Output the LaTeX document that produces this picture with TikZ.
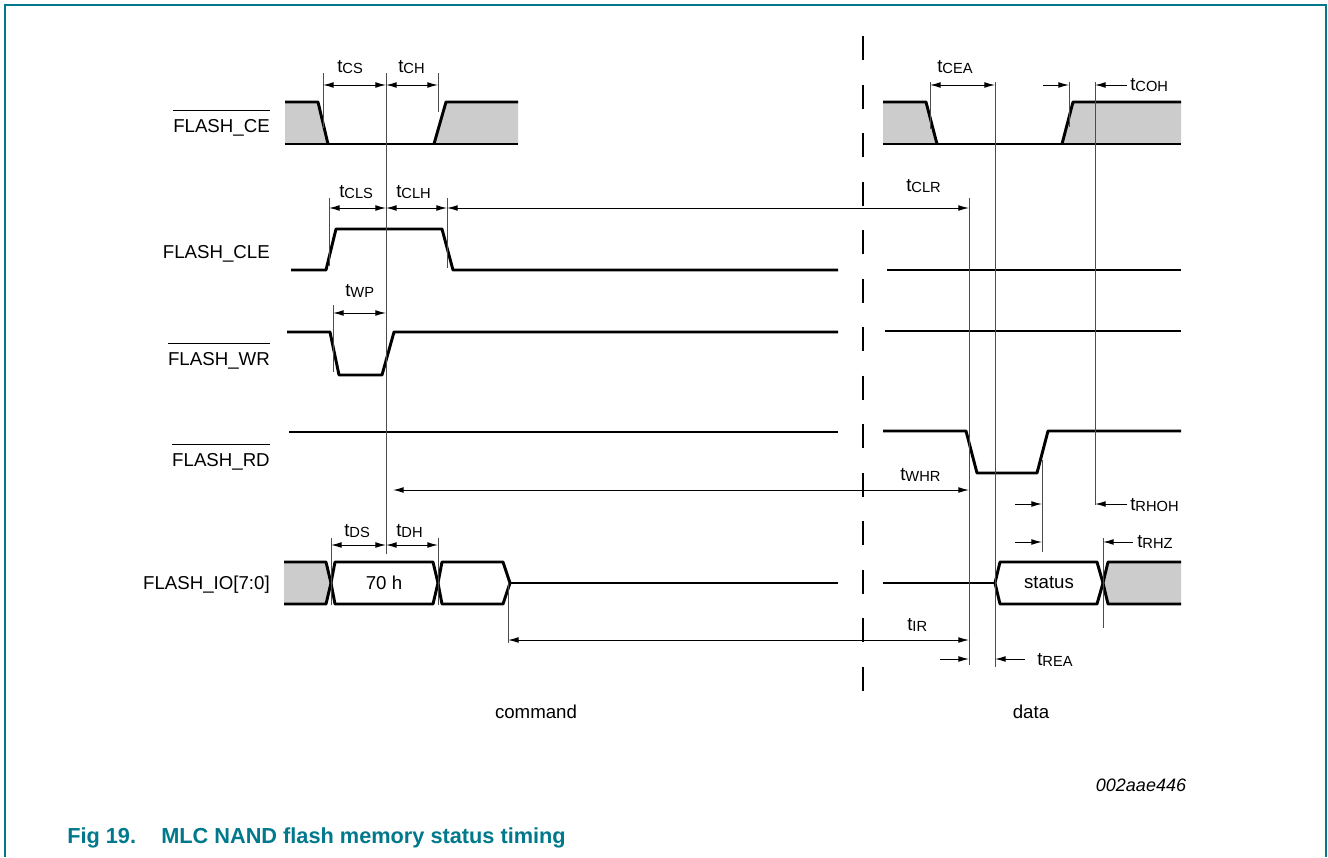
\documentclass[tikz,border=0pt]{standalone}
\usepackage{fontspec}
\setmainfont{Liberation Sans}
\usetikzlibrary{arrows.meta}
\definecolor{figteal}{RGB}{0,121,140}
\definecolor{dontcare}{RGB}{204,204,204}
% timing name: t with a lowered subscript
\newcommand{\tsub}[1]{t\raisebox{-1.2pt}{\fontsize{11pt}{12pt}\selectfont #1}}
\tikzset{
  wave/.style={line width=2.2pt, line join=round},
  tick/.style={draw=black!70, line width=0.6pt},
  dim/.style={line width=0.75pt, <->, >={Latex[length=8pt,width=4.4pt]}},
  sig/.style={anchor=base east, inner sep=0pt, font=\fontsize{14pt}{16pt}\selectfont},
  tlab/.style={anchor=base west, inner sep=0pt, font=\fontsize{14pt}{16pt}\selectfont},
  plain/.style={inner sep=0pt, font=\fontsize{14pt}{16pt}\selectfont},
  bar/.style={line width=0.8pt},
}
\begin{document}
\begin{tikzpicture}[x=0.75pt,y=0.75pt,yscale=-1,xscale=1]
        \useasboundingbox (0,0) rectangle (1328,857);
        %Shape: Frame
        \draw [figteal, line width=1.5pt] (5,857) -- (5,5) -- (1326,5) -- (1326,857) ;
        %Straight Lines: break
        \draw [line width=1.2pt, dash pattern={on 18pt off 18.4pt}] (863,36) -- (863,698) ;

        % FLASH_CE
        \fill [dontcare] (285,102) -- (318,102) -- (328,144) -- (285,144) -- cycle ;
        \fill [dontcare] (434,144) -- (446,102) -- (518,102) -- (518,144) -- cycle ;
        \draw [wave] (285,102) -- (318,102) -- (328,144) ;
        \draw [wave] (285,144) -- (518,144) ;
        \draw [wave] (434,144) -- (446,102) -- (518,102) ;
        \fill [dontcare] (883,102) -- (926,102) -- (937,144) -- (883,144) -- cycle ;
        \fill [dontcare] (1062,144) -- (1073,102) -- (1181,102) -- (1181,144) -- cycle ;
        \draw [wave] (883,102) -- (926,102) -- (937,144) ;
        \draw [wave] (883,144) -- (1181,144) ;
        \draw [wave] (1062,144) -- (1073,102) -- (1181,102) ;

        % FLASH_CLE
        \draw [wave] (291,270) -- (326,270) -- (336,229) -- (442,229) -- (453,270) -- (838,270) ;
        \draw [wave] (887,270) -- (1181,270) ;

        % FLASH_WR
        \draw [wave] (287,332) -- (330,332) -- (339,375) -- (382,375) -- (394,332) -- (838,332) ;
        \draw [wave] (885,331) -- (1181,331) ;

        % FLASH_RD
        \draw [wave] (289,432) -- (838,432) ;
        \draw [wave] (883,431) -- (966,431) -- (977,473) -- (1037,473) -- (1048,431) -- (1181,431) ;

        % FLASH_IO[7:0]
        \fill [dontcare] (284,562) -- (326,562) -- (331,583) -- (326,604) -- (284,604) -- cycle ;
        \draw [wave] (284,562) -- (326,562) -- (331,583) -- (326,604) -- (284,604) ;
        \draw [wave] (331,583) -- (335,562) -- (433,562) -- (438,583) -- (433,604) -- (335,604) -- cycle ;
        \draw [wave] (438,583) -- (442,562) -- (503,562) -- (510,583) -- (503,604) -- (442,604) -- cycle ;
        \draw [wave] (510,583) -- (838,583) ;
        \draw [wave] (883,583) -- (995,583) ;
        \draw [wave] (995,583) -- (1000,562) -- (1097,562) -- (1103,583) -- (1097,604) -- (1000,604) -- cycle ;
        \fill [dontcare] (1181,562) -- (1108,562) -- (1103,583) -- (1108,604) -- (1181,604) -- cycle ;
        \draw [wave] (1181,562) -- (1108,562) -- (1103,583) -- (1108,604) -- (1181,604) ;

        %Straight Lines: ticks
        \draw [tick] (323,73) -- (323,128) ;
        \draw [tick] (386,73) -- (386,554) ;
        \draw [tick] (438,73) -- (438,112) ;
        \draw [tick] (329,198) -- (329,266) ;
        \draw [tick] (447,198) -- (447,268) ;
        \draw [tick] (969,198) -- (969,665) ;
        \draw [tick] (333,305) -- (333,372) ;
        \draw [tick] (930,82) -- (930,129) ;
        \draw [tick] (995,82) -- (995,667) ;
        \draw [tick] (1069,82) -- (1069,127) ;
        \draw [tick] (1095,82) -- (1095,505) ;
        \draw [tick] (1042,460) -- (1042,552) ;
        \draw [tick] (1103,538) -- (1103,628) ;
        \draw [tick] (331,538) -- (331,605) ;
        \draw [tick] (438,538) -- (438,605) ;
        \draw [tick] (508,583) -- (508,643) ;

        %Straight Lines: timing arrows
        \draw [dim] (323,85) -- (386,85) ;
        \draw [dim] (386,85) -- (438,85) ;
        \draw [dim] (329,208) -- (386,208) ;
        \draw [dim] (386,208) -- (447,208) ;
        \draw [dim] (447,208) -- (969,208) ;
        \draw [dim] (333,313) -- (386,313) ;
        \draw [dim] (393,490) -- (969,490) ;
        \draw [dim] (331,545) -- (386,545) ;
        \draw [dim] (386,545) -- (438,545) ;
        \draw [dim] (508,640) -- (969,640) ;
        \draw [dim] (930,85) -- (995,85) ;
        \draw [dim, ->] (1043,85) -- (1069,85) ;
        \draw [dim, ->] (1127,85) -- (1095,85) ;
        \draw [dim, ->] (1015,504) -- (1042,504) ;
        \draw [dim, ->] (1127,504) -- (1095,504) ;
        \draw [dim, ->] (1015,542) -- (1042,542) ;
        \draw [dim, ->] (1133,542) -- (1103,542) ;
        \draw [dim, ->] (940,659) -- (969,659) ;
        \draw [dim, ->] (1025,659) -- (995,659) ;

        % Text Node: signal names
        \draw (270,132) node [sig] (ce) {FLASH\_CE};
        \draw (270,258) node [sig] (cle) {FLASH\_CLE};
        \draw (270,365) node [sig] (wr) {FLASH\_WR};
        \draw (270,466) node [sig] (rd) {FLASH\_RD};
        \draw (270,589) node [sig] (io) {FLASH\_IO[7:0]};
        \draw [bar] ([yshift=-6.5pt]ce.north west) -- ([yshift=-6.5pt]ce.north east) ;
        \draw [bar] ([yshift=-6.5pt]wr.north west) -- ([yshift=-6.5pt]wr.north east) ;
        \draw [bar] ([yshift=-6.5pt]rd.north west) -- ([yshift=-6.5pt]rd.north east) ;

        % Text Node: bus values
        \draw (384,583) node [plain] (cmd) {70 h};
        \draw (1049,583) node [plain] (stat) {status};

        % Text Node: timings
        \draw (337,72) node [tlab] (tcs) {\tsub{CS}};
        \draw (398,72) node [tlab] (tch) {\tsub{CH}};
        \draw (339,197) node [tlab] (tcls) {\tsub{CLS}};
        \draw (396,197) node [tlab] (tclh) {\tsub{CLH}};
        \draw (906,191) node [tlab] (tclr) {\tsub{CLR}};
        \draw (937,72) node [tlab] (tcea) {\tsub{CEA}};
        \draw (1130,90) node [tlab] (tcoh) {\tsub{COH}};
        \draw (345,296) node [tlab] (twp) {\tsub{WP}};
        \draw (900,480) node [tlab] (twhr) {\tsub{WHR}};
        \draw (1130,510) node [tlab] (trhoh) {\tsub{RHOH}};
        \draw (1137,547) node [tlab] (trhz) {\tsub{RHZ}};
        \draw (907,630) node [tlab] (tir) {\tsub{IR}};
        \draw (1037,665) node [tlab] (trea) {\tsub{REA}};
        \draw (344,536) node [tlab] (tds) {\tsub{DS}};
        \draw (396,536) node [tlab] (tdh) {\tsub{DH}};

        % Text Node: phases
        \draw (536,712) node [plain] (command) {command};
        \draw (1031,712) node [plain] (data) {data};
        \draw (1141,785) node [plain, font=\fontsize{13.5pt}{15pt}\itshape] (figid) {002aae446};

        % Text Node: caption
        \draw (67,843) node [anchor=base west, inner sep=0pt, text=figteal, font=\fontsize{16.3pt}{18pt}\bfseries] (caption) {\makebox[70.5pt][l]{Fig 19.}MLC NAND flash memory status timing};
\end{tikzpicture}
\end{document}
